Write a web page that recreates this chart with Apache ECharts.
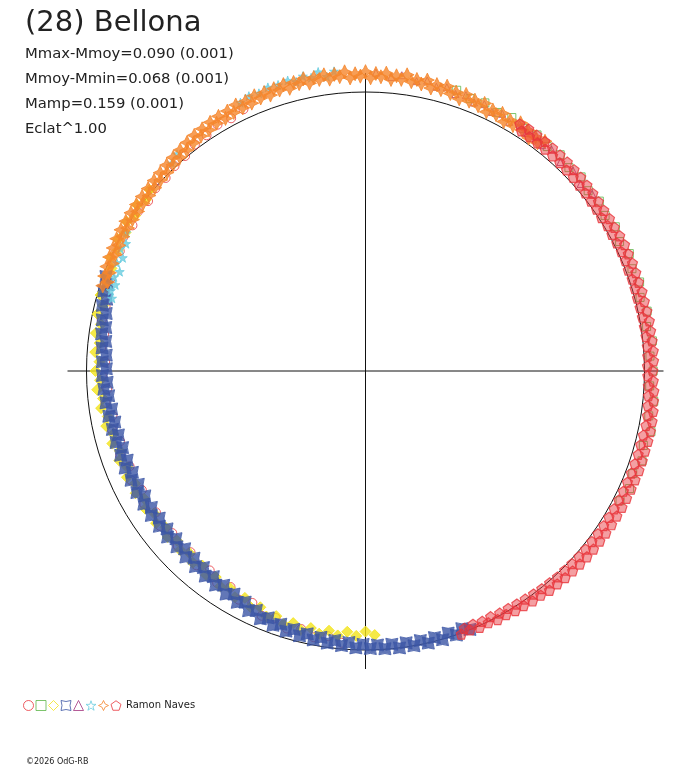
<!DOCTYPE html>
<html>
<head>
<meta charset="utf-8">
<title>(28) Bellona</title>
<style>
  * { margin: 0; padding: 0; }
  body { background: #fff; }
  #main { width: 688px; height: 768px; }
</style>
</head>
<body>
<div id="main"></div>
<script src="https://cdn.jsdelivr.net/npm/echarts@6/dist/echarts.min.js"></script>
<script>
// each point: [phase angle in degrees, radius relative to the mean circle]
var s1Circle = [[115,1.035],[118,1.026],[121,1.030],[124,1.019],[127,1.016],[130,1.006],[133,1.004],[136,0.996],[139,0.998],[142,0.989],
  [145,0.996],[148,0.985],[151,0.992],[154,0.980],[157,0.987],[160,0.972],[163,0.976],[166,0.960],[169,0.963],[172,0.946],
  [175,0.951],[178,0.934],[181,0.945],[184,0.928],[187,0.939],[190,0.921],[193,0.933],[196,0.915],[199,0.930],[202,0.912],
  [205,0.927],[208,0.908],[211,0.925],[214,0.906],[217,0.922],[220,0.904],[223,0.920],[226,0.903],[229,0.923],[232,0.907],
  [235,0.927],[238,0.913],[241,0.937],[244,0.925],[247,0.953],[250,0.942],[253,0.965],[256,0.953],[259,0.972],[262,0.960],
  [265,0.978]];

var s2Square = [[72,1.058],[69,1.046],[66,1.052],[63,1.040],[60,1.049],[57,1.037],[54,1.046],[51,1.035],[48,1.043],[45,1.031],
  [42,1.040],[39,1.027],[36,1.036],[33,1.024],[30,1.034],[27,1.022],[24,1.035],[21,1.023],[18,1.033],[15,1.019],
  [12,1.032],[9,1.020],[6,1.034],[3,1.021],[0,1.031],[357,1.020],[354,1.039],[351,1.028],[348,1.046],[345,1.031],
  [342,1.042],[339,1.026],[336,1.036],[333,1.024]];

var s3Diamond = [[140,1.010],[142,0.998],[144,1.012],[146,0.996],[148,1.009],[150,0.993],[152,1.005],[154,0.988],[156,1.000],[158,0.982],
  [160,0.993],[162,0.975],[164,0.988],[166,0.969],[168,0.982],[170,0.963],[172,0.976],[174,0.958],[176,0.971],[178,0.954],
  [180,0.968],[182,0.952],[184,0.964],[186,0.946],[188,0.957],[190,0.938],[192,0.950],[194,0.931],[196,0.944],[198,0.926],
  [200,0.939],[202,0.921],[204,0.936],[206,0.919],[208,0.933],[210,0.916],[212,0.931],[214,0.913],[216,0.928],[218,0.910],
  [220,0.926],[222,0.909],[224,0.924],[226,0.908],[228,0.925],[230,0.910],[232,0.928],[234,0.913],[236,0.931],[238,0.917],
  [240,0.936],[242,0.921],[244,0.941],[246,0.927],[248,0.949],[250,0.935],[252,0.954],[254,0.940],[256,0.957],[258,0.942],
  [260,0.956],[262,0.940],[264,0.953],[266,0.937],[268,0.950],[270,0.934],[272,0.947]];

var s4Star4 = [[160,0.990],[161.5,0.976],[163,0.981],[164.5,0.963],[166,0.972],[167.5,0.952],[169,0.961],[170.5,0.944],[172,0.955],[173.5,0.937],
  [175,0.948],[176.5,0.931],[178,0.944],[179.5,0.929],[181,0.943],[182.5,0.927],[184,0.940],[185.5,0.925],[187,0.937],[188.5,0.920],
  [190,0.934],[191.5,0.917],[193,0.931],[194.5,0.915],[196,0.930],[197.5,0.913],[199,0.928],[200.5,0.912],[202,0.929],[203.5,0.911],
  [205,0.927],[206.5,0.910],[208,0.928],[209.5,0.909],[211,0.927],[212.5,0.910],[214,0.926],[215.5,0.908],[217,0.925],[218.5,0.909],
  [220,0.926],[221.5,0.907],[223,0.924],[224.5,0.909],[226,0.927],[227.5,0.910],[229,0.929],[230.5,0.913],[232,0.933],[233.5,0.917],
  [235,0.937],[236.5,0.921],[238,0.943],[239.5,0.928],[241,0.948],[242.5,0.934],[244,0.956],[245.5,0.943],[247,0.965],[248.5,0.951],
  [250,0.970],[251.5,0.957],[253,0.975],[254.5,0.961],[256,0.978],[257.5,0.965],[259,0.982],[260.5,0.968],[262,0.985],[263.5,0.972],
  [265,0.988],[266.5,0.975],[268,0.993],[269.5,0.980],[271,0.995],[272.5,0.983],[274,0.998],[275.5,0.984],[277,1.000],[278.5,0.985],
  [280,1.000],[281.5,0.986],[283,1.001],[284.5,0.987],[286,1.002],[287.5,0.985],[289,1.001],[290.5,0.986],[292,0.999]];

var s5Triangle = [[88,1.070],[85,1.058],[83,1.068],[80,1.055],[78,1.064],[76,1.050],[74,1.058],[72,1.044],[70,1.052],[68,1.038],
  [66,1.047],[64,1.033],[62,1.044],[60,1.031],[58,1.042],[56,1.029],[54,1.040],[52,1.027],[50,1.037],[47,1.024],
  [44,1.034],[41,1.022],[38,1.031]];

var s6Star5 = [[96,1.080],[97.5,1.064],[99,1.085],[100.5,1.069],[102,1.080],[103.5,1.066],[105,1.078],[107,1.072],[109,1.075],[111,1.066],
  [113,1.070],[115,1.061],[131,1.030],[133,1.018],[150,0.990],[152,0.972],[153.5,0.982],[155,0.960],[156.5,0.972],[158,0.950],
  [159.5,0.962],[161,0.948],[162.5,0.957],[164,0.945]];

var s7Cross = [[52,1.045],[53,1.024],[54,1.037],[55,1.020],[56,1.041],[57,1.030],[58,1.049],[59,1.026],[60,1.038],[61,1.022],
  [62,1.046],[63,1.031],[64,1.041],[65,1.025],[66,1.050],[67,1.033],[68,1.047],[69,1.036],[70,1.055],[71,1.032],
  [72,1.051],[73,1.040],[74,1.062],[75,1.044],[76,1.058],[77,1.041],[78,1.066],[79,1.048],[80,1.061],[81,1.050],
  [82,1.072],[83,1.053],[84,1.064],[85,1.049],[86,1.070],[87,1.056],[88,1.067],[89,1.051],[90,1.073],[91,1.057],
  [92,1.066],[93,1.052],[94,1.075],[95,1.059],[96,1.069],[97,1.054],[98,1.072],[99,1.058],[100,1.068],[101,1.051],
  [102,1.071],[103,1.057],[104,1.066],[105,1.049],[106,1.068],[107,1.053],[108,1.064],[109,1.046],[110,1.062],[111,1.048],
  [112,1.064],[113,1.043],[114,1.058],[115,1.041],[116,1.061],[117,1.040],[118,1.055],[119,1.035],[120,1.054],[121,1.036],
  [122,1.051],[123,1.030],[124,1.047],[125,1.028],[126,1.044],[127,1.024],[128,1.039],[129,1.018],[130,1.034],[131,1.014],
  [132,1.030],[133,1.011],[134,1.026],[135,1.006],[136,1.023],[137,1.004],[138,1.020],[139,1.001],[140,1.017],[141,0.999],
  [142,1.016],[143,0.998],[144,1.015],[145,0.997],[146,1.014],[147,0.996],[148,1.013],[149,0.995],[150,1.012],[151,0.994],
  [152,1.010],[153,0.992],[154,1.006],[155,0.989],[156,1.004],[157,0.986],[158,1.000],[159,0.983],[160,0.995],[161,0.978],
  [162,0.990]];

var s8Pentagon = [[290,1.004],[291,0.988],[292,1.001],[293,0.986],[294,1.006],[295,0.990],[296,1.004],[297,0.988],[298,1.009],[299,0.992],
  [300,1.008],[301,0.993],[302,1.013],[303,0.996],[304,1.014],[305,0.998],[306,1.019],[307,1.001],[308,1.020],[309,1.004],
  [310,1.026],[311,1.006],[312,1.027],[313,1.009],[314,1.030],[315,1.010],[316,1.032],[317,1.012],[318,1.034],[319,1.014],
  [320,1.036],[321,1.015],[322,1.037],[323,1.016],[324,1.038],[325,1.017],[326,1.039],[327,1.018],[328,1.040],[329,1.018],
  [330,1.040],[331,1.019],[332,1.041],[333,1.019],[334,1.041],[335,1.020],[336,1.042],[337,1.020],[338,1.042],[339,1.021],
  [340,1.043],[341,1.021],[342,1.043],[343,1.022],[344,1.042],[345,1.021],[346,1.043],[347,1.022],[348,1.044],[349,1.024],
  [350,1.043],[351,1.023],[352,1.041],[353,1.020],[354,1.038],[355,1.018],[356,1.036],[357,1.015],[358,1.032],[359,1.012],
  [0,1.030],[1,1.011],[2,1.033],[3,1.013],[4,1.034],[5,1.014],[6,1.033],[7,1.013],[8,1.032],[9,1.012],
  [10,1.033],[11,1.011],[12,1.031],[13,1.010],[14,1.030],[15,1.009],[16,1.031],[17,1.010],[18,1.029],[19,1.011],
  [20,1.031],[21,1.009],[22,1.032],[23,1.012],[24,1.031],[25,1.012],[26,1.033],[27,1.011],[28,1.032],[29,1.010],
  [30,1.030],[31,1.012],[32,1.031],[33,1.009],[34,1.030],[35,1.011],[36,1.032],[37,1.012],[38,1.034],[39,1.014],
  [40,1.036],[41,1.015],[42,1.038],[43,1.018],[44,1.039],[45,1.019],[46,1.041],[47,1.021],[48,1.042],[49,1.022],
  [50,1.043],[51,1.023],[52,1.044],[53,1.024],[54,1.045],[55,1.025],[56,1.046],[57,1.026],[58,1.044]];

var titleText = '(28) Bellona';
var statLines = ['Mmax-Mmoy=0.090 (0.001)', 'Mmoy-Mmin=0.068 (0.001)', 'Mamp=0.159 (0.001)', 'Eclat^1.00'];
var observer = 'Ramon Naves';
var credit = '\u00a92026 OdG-RB';

var FONT = 'DejaVu Sans';
var CENTER = [365.5, 371];

var PATH_STAR4 = 'path://M0,0 Q5,2 10,0 Q8,5 10,10 Q5,8 0,10 Q2,5 0,0 Z';
var PATH_STAR5 = 'path://M5,0 L6.2,3.6 L10,3.6 L6.9,5.9 L8.1,9.5 L5,7.3 L1.9,9.5 L3.1,5.9 L0,3.6 L3.8,3.6 Z';
var PATH_CROSS = 'path://M5,0 L6.6,3.4 L10,5 L6.6,6.6 L5,10 L3.4,6.6 L0,5 L3.4,3.4 Z';
var PATH_PENTA = 'path://M5,0 L10,3.6 L8.1,9.5 L1.9,9.5 L0,3.6 Z';

// dense sessions are drawn filled: thousands of overlapping outlines read as a solid band in the original
var sessions = [
  { name: 'Naves 1', data: s1Circle,   symbol: 'circle',   size: 9,  color: '#e8363c', fill: 'rgba(0,0,0,0)', bw: 1 },
  { name: 'Naves 2', data: s2Square,   symbol: 'rect',     size: 8,  color: '#5cb548', fill: 'rgba(0,0,0,0)', bw: 1 },
  { name: 'Naves 3', data: s3Diamond,  symbol: 'diamond',  size: 11, color: '#f3e41a', fill: '#f3e41a', bw: 1 },
  { name: 'Naves 4', data: s4Star4,    symbol: PATH_STAR4, size: 12, color: '#3b55a5', fill: '#3b55a5', bw: 1 },
  { name: 'Naves 5', data: s5Triangle, symbol: 'triangle', size: 7,  color: '#a3337e', fill: 'rgba(0,0,0,0)', bw: 1 },
  { name: 'Naves 6', data: s6Star5,    symbol: PATH_STAR5, size: 9,  color: '#6ccde0', fill: '#6ccde0', bw: 1 },
  { name: 'Naves 7', data: s7Cross,    symbol: PATH_CROSS, size: 14, color: '#f5862c', fill: '#f5862c', bw: 1 },
  { name: 'Naves 8', data: s8Pentagon, symbol: PATH_PENTA, size: 10, color: '#e8363c', fill: 'rgba(232,54,60,0.6)', bw: 1.2 }
];

var series = sessions.map(function (s) {
  return {
    type: 'scatter',
    name: s.name,
    coordinateSystem: 'polar',
    polarIndex: 0,
    symbol: s.symbol,
    symbolSize: s.size,
    clip: false,
    silent: true,
    itemStyle: { color: s.fill, borderColor: s.color, borderWidth: s.bw },
    data: s.data.map(function (p) { return [p[1], p[0]]; })   // polar wants [radius, angle]
  };
});

var chart = echarts.init(document.getElementById('main'));
chart.setOption({
  backgroundColor: '#fff',
  animation: false,
  title: [{
    text: titleText,
    subtext: statLines.join('\n'),
    left: 25, top: 8, padding: 0, itemGap: 3,
    textStyle: { fontFamily: FONT, fontSize: 29, fontWeight: 'normal', color: '#222', lineHeight: 31 },
    subtextStyle: { fontFamily: FONT, fontSize: 14.8, color: '#222', lineHeight: 25 }
  }, {
    text: credit,
    left: 26, top: 757, padding: 0,
    textStyle: { fontFamily: FONT, fontSize: 8, fontWeight: 'normal', color: '#222', lineHeight: 10 }
  }],
  legend: {
    left: 23, top: 700, padding: 0,
    itemWidth: 10, itemHeight: 10, itemGap: 1.5,
    selectedMode: false,
    data: sessions.map(function (s) {
      return { name: s.name, itemStyle: { color: 'rgba(0,0,0,0)', borderColor: s.color, borderWidth: 1 } };
    }),
    formatter: function (name) { return name === 'Naves 8' ? observer : ''; },
    textStyle: { fontFamily: FONT, fontSize: 10, color: '#222' }
  },
  polar: [
    { center: CENTER, radius: 279 },
    { center: CENTER, radius: 298 }
  ],
  angleAxis: [{
    polarIndex: 0, type: 'value', startAngle: 0, clockwise: false, min: 0, max: 360,
    axisLine: { show: true, lineStyle: { color: '#111', width: 1 } },
    axisTick: { show: false }, axisLabel: { show: false }, splitLine: { show: false }
  }, {
    polarIndex: 1, type: 'value', startAngle: 0, clockwise: false, min: 0, max: 360, interval: 90,
    axisLine: { show: false }, axisTick: { show: false }, axisLabel: { show: false },
    splitLine: { show: true, lineStyle: { color: '#111', width: 1 } }
  }],
  radiusAxis: [
    { polarIndex: 0, type: 'value', min: 0, max: 1, show: false },
    { polarIndex: 1, type: 'value', min: 0, max: 1, show: false }
  ],
  series: series
});
</script>
</body>
</html>
